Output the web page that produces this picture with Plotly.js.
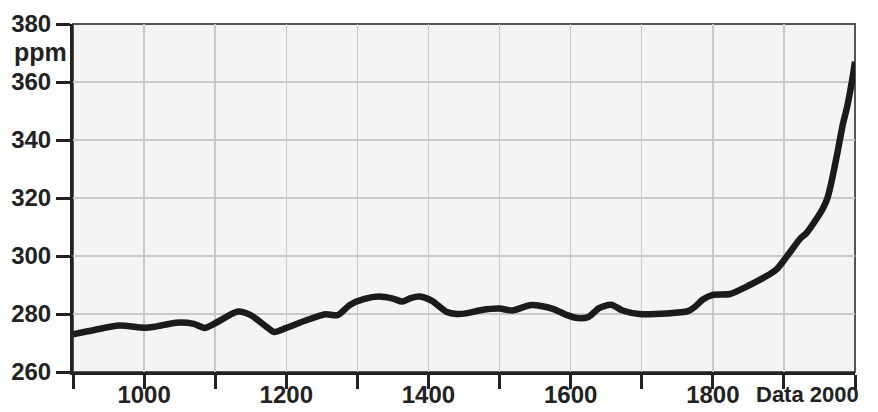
<!DOCTYPE html>
<html>
<head>
<meta charset="utf-8">
<script src="https://cdn.plot.ly/plotly-3.0.1.min.js"></script>
<style>html,body{margin:0;padding:0;background:#fff;}#chart{width:878px;height:412px;}</style>
</head>
<body>
<div id="chart"></div>
<script>
const years = [900,930,965,1000,1015,1045,1070,1085,1100,1131,1150,1170,1183,1200,1230,1255,1272,1290,1310,1330,1350,1363,1375,1388,1405,1425,1440,1455,1475,1500,1518,1545,1575,1595,1610,1625,1640,1657,1673,1697,1735,1765,1775,1786,1800,1824,1852,1875,1890,1904,1923,1932,1948,1955,1961,1965,1969,1976,1983,1989,1996,2000];
const co2ppm = [273,274.5,276,275.3,275.6,277,276.6,275.2,276.8,280.8,279.6,276,273.8,275.2,278,279.9,279.6,283.2,285.2,286,285.3,284.3,285.5,286,284.5,280.8,280,280.3,281.4,281.9,281.2,283.1,281.8,279.6,278.6,279,282,283.2,281.2,280,280.2,281,282.5,285,286.6,286.9,290,293,295.5,299.8,306,308,313.6,316.5,319.8,323.5,328,336.5,345.5,351.5,360.7,367];
const xTickVals = [900,1000,1100,1200,1300,1400,1500,1600,1700,1800,1900,2000];
const xTickText = ['','1000','','1200','','1400','','1600','','1800','',''];
const yTickVals = [260,280,300,320,340,360,380];
const yUnit = 'ppm';
const lastLabel = 'Data 2000';

const fontFam = '"Liberation Sans", Arial, sans-serif';
const trace = {
  x: years, y: co2ppm, type: 'scatter', mode: 'lines',
  line: {color: '#1b1b1b', width: 6.5, shape: 'spline', smoothing: 0.7},
  hoverinfo: 'skip'
};
const layout = {
  width: 878, height: 412,
  margin: {l: 73, r: 23, t: 24, b: 40},
  paper_bgcolor: '#ffffff', plot_bgcolor: '#f4f4f4',
  showlegend: false,
  font: {family: fontFam, color: '#222', size: 24, weight: 'bold'},
  xaxis: {
    range: [900, 2000], tickmode: 'array', tickvals: xTickVals, ticktext: xTickText,
    showgrid: true, gridcolor: '#c9c9c9', gridwidth: 1.5,
    showline: true, linecolor: '#222', linewidth: 3,
    ticks: 'outside', ticklen: 14, tickwidth: 3, tickcolor: '#222',
    ticklabelstandoff: -15,
    tickfont: {family: fontFam, size: 24, color: '#222', weight: 'bold'},
    zeroline: false, fixedrange: true
  },
  yaxis: {
    range: [260, 380], tickmode: 'array', tickvals: yTickVals,
    showgrid: true, gridcolor: '#c9c9c9', gridwidth: 1.5,
    showline: true, linecolor: '#222', linewidth: 3,
    ticks: 'outside', ticklen: 14, tickwidth: 3, tickcolor: '#222',
    tickfont: {family: fontFam, size: 24, color: '#222', weight: 'bold'},
    zeroline: false, fixedrange: true
  },
  shapes: [{
    type: 'rect', xref: 'paper', yref: 'paper', x0: 0, x1: 1, y0: 0, y1: 1,
    line: {color: '#555', width: 2}, layer: 'between'
  }],
  annotations: [
    {text: yUnit, xref: 'paper', yref: 'paper', x: 0, y: 1, xanchor: 'right', yanchor: 'top',
     xshift: -4, yshift: -12, showarrow: false,
     font: {family: fontFam, size: 25, color: '#222', weight: 'bold'}},
    {text: lastLabel, xref: 'x', yref: 'paper', x: 2000, y: 0, xanchor: 'right', yanchor: 'top',
     xshift: 6, yshift: -8, showarrow: false,
     font: {family: fontFam, size: 22, color: '#222', weight: 'bold'}}
  ]
};
Plotly.newPlot('chart', [trace], layout, {staticPlot: true, displayModeBar: false});
</script>
</body>
</html>
